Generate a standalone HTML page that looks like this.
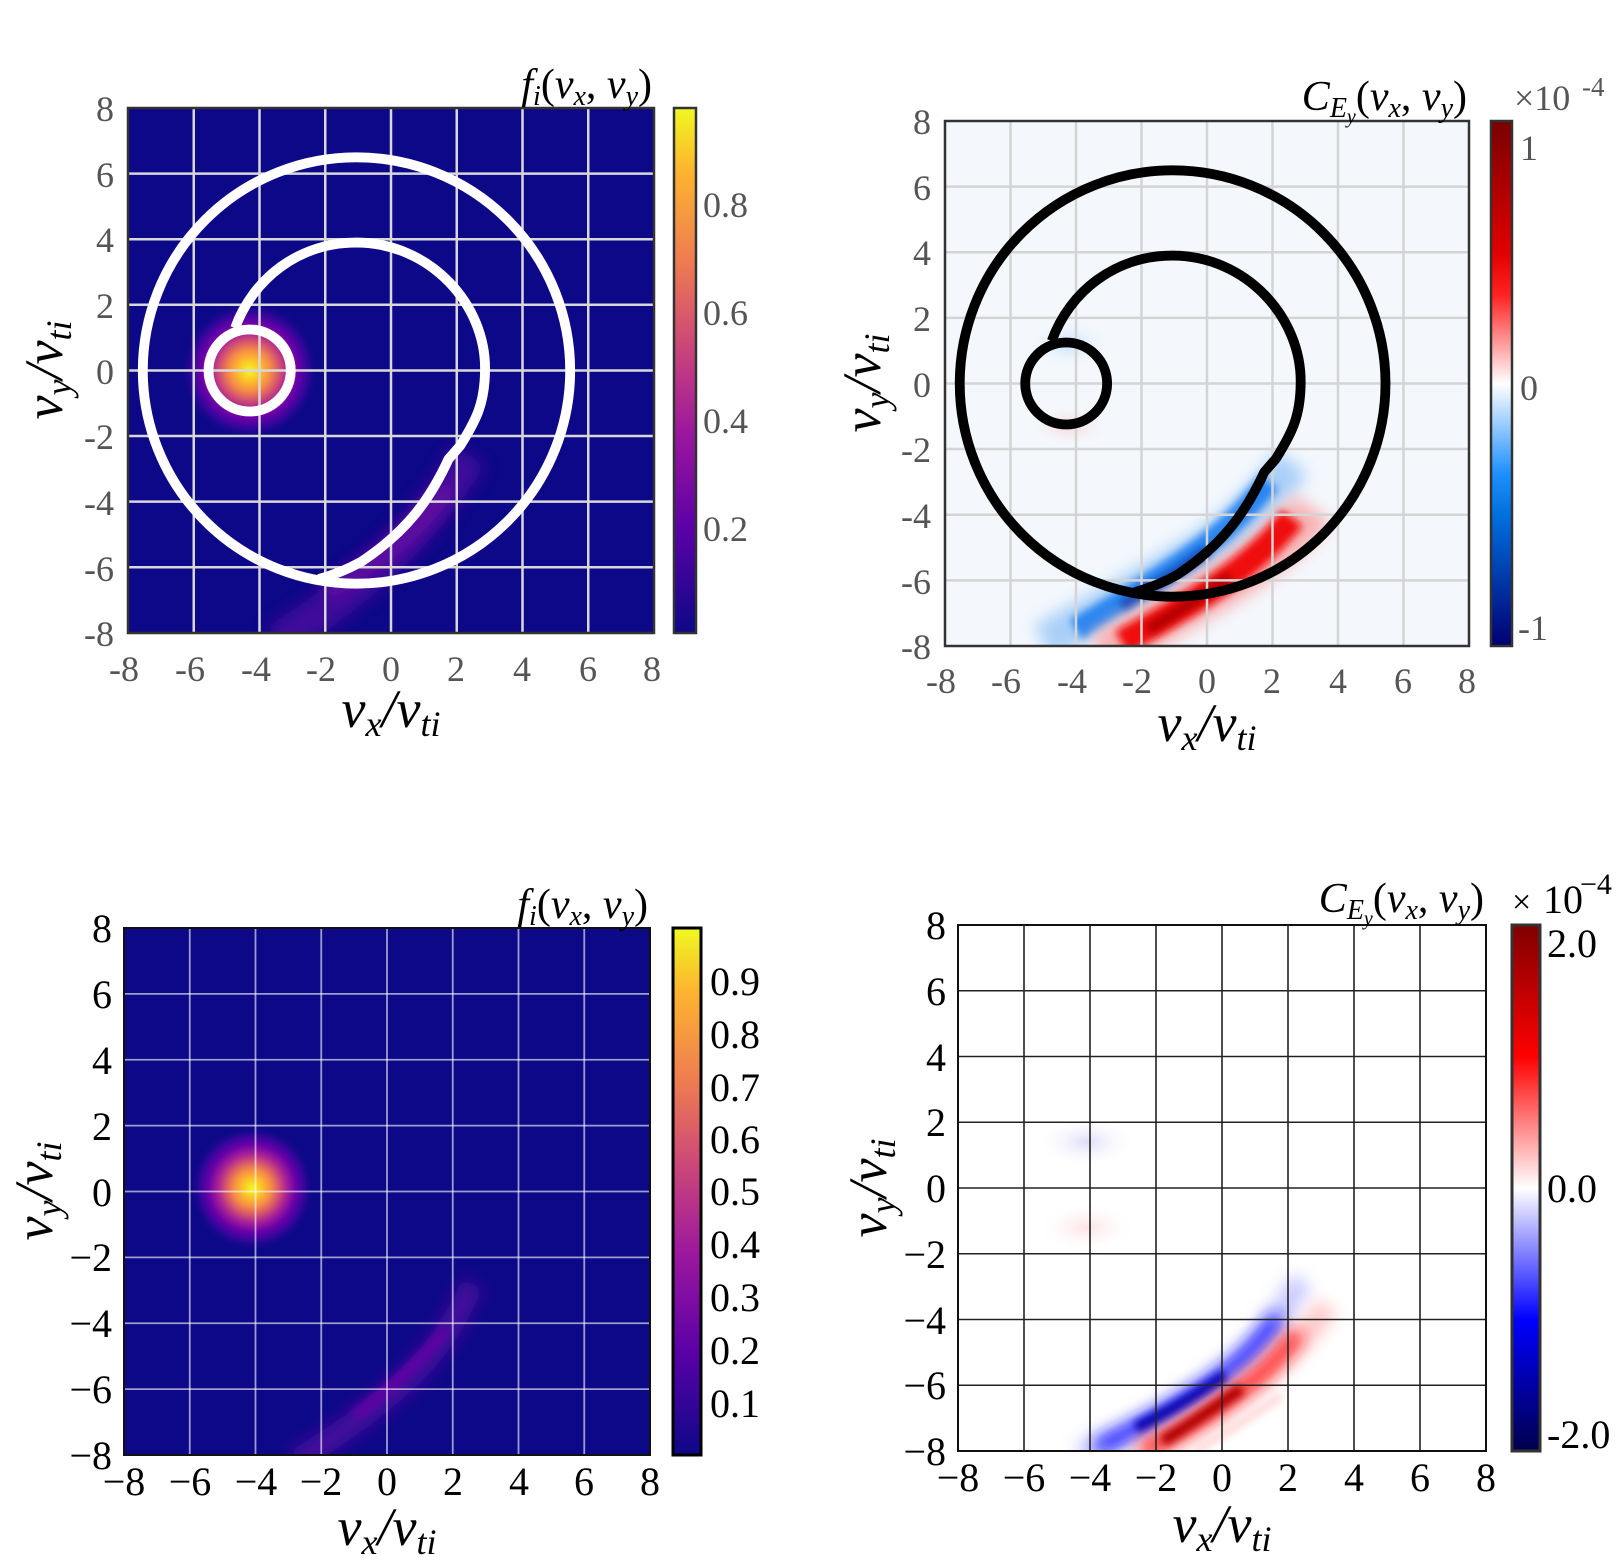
<!DOCTYPE html>
<html><head><meta charset="utf-8"><style>
html,body{margin:0;padding:0;background:#fff}
svg{display:block}
.tg{font-family:"Liberation Serif",serif;font-size:36px;fill:#555}
.tb{font-family:"Liberation Serif",serif;font-size:40px;fill:#000}
.lab{font-family:"Liberation Serif",serif;font-style:italic;font-size:54px}
.ttl{font-family:"Liberation Serif",serif;font-style:italic;font-size:42px}
</style></head><body>
<svg width="1617" height="1564" viewBox="0 0 1617 1564" xmlns="http://www.w3.org/2000/svg">
<defs>
<clipPath id="cd"><rect x="-8" y="-8" width="16" height="16"/></clipPath>
<filter id="b1" filterUnits="userSpaceOnUse" x="-10" y="-10" width="20" height="20"><feGaussianBlur stdDeviation="0.25"/></filter>
<filter id="b2" filterUnits="userSpaceOnUse" x="-10" y="-10" width="20" height="20"><feGaussianBlur stdDeviation="0.12"/></filter>
<radialGradient id="pl"><stop offset="0" stop-color="#f0f921"/><stop offset="0.15" stop-color="#fdc328"/><stop offset="0.3" stop-color="#f58c46"/><stop offset="0.42" stop-color="#d8576b"/><stop offset="0.55" stop-color="#a82296"/><stop offset="0.7" stop-color="#6a00a8"/><stop offset="0.85" stop-color="#30069a"/><stop offset="1" stop-color="#0d0887" stop-opacity="0"/></radialGradient>
<radialGradient id="bb"><stop offset="0" stop-color="#c7dffa"/><stop offset="1" stop-color="#f4f8fd" stop-opacity="0"/></radialGradient>
<radialGradient id="rb"><stop offset="0" stop-color="#fbd6d6"/><stop offset="1" stop-color="#f4f8fd" stop-opacity="0"/></radialGradient>
<radialGradient id="bb2"><stop offset="0" stop-color="#dcdcf8"/><stop offset="1" stop-color="#fff" stop-opacity="0"/></radialGradient>
<radialGradient id="rb2"><stop offset="0" stop-color="#fce2e2"/><stop offset="1" stop-color="#fff" stop-opacity="0"/></radialGradient>
<linearGradient id="cp" x1="0" y1="0" x2="0" y2="1"><stop offset="0" stop-color="#f0f921"/><stop offset="0.12" stop-color="#fdb42f"/><stop offset="0.3" stop-color="#ed7953"/><stop offset="0.45" stop-color="#cc4778"/><stop offset="0.62" stop-color="#9c179e"/><stop offset="0.8" stop-color="#5c01a6"/><stop offset="1" stop-color="#0d0887"/></linearGradient>
<linearGradient id="cm" x1="0" y1="0" x2="0" y2="1"><stop offset="0" stop-color="#7a0000"/><stop offset="0.25" stop-color="#e00000"/><stop offset="0.33" stop-color="#ff2020"/><stop offset="0.5" stop-color="#ffffff"/><stop offset="0.67" stop-color="#2090ff"/><stop offset="0.75" stop-color="#0070e0"/><stop offset="1" stop-color="#000070"/></linearGradient>
<linearGradient id="cs" x1="0" y1="0" x2="0" y2="1"><stop offset="0" stop-color="#7f0000"/><stop offset="0.25" stop-color="#ff0000"/><stop offset="0.5" stop-color="#ffffff"/><stop offset="0.75" stop-color="#0000ff"/><stop offset="1" stop-color="#00004c"/></linearGradient>
</defs>

<!-- ========== TOP LEFT ========== -->
<rect x="128" y="108" width="526" height="525" fill="#0d0887"/>
<g transform="translate(391,370.5) scale(32.875,-32.8)" clip-path="url(#cd)">
  <path d="M -3.5 -8.3 C -1.5 -7, 0.5 -5.6, 2.4 -2.6" stroke="#4d0aa0" stroke-width="1.1" fill="none" filter="url(#b1)" opacity="0.8"/>
  <path d="M -2 -6.8 C -0.5 -5.9, 0.8 -5, 1.8 -3.5" stroke="#7a10a6" stroke-width="0.5" fill="none" filter="url(#b1)" opacity="0.7"/>
  <circle cx="-4.3" cy="0" r="2.1" fill="url(#pl)"/>
</g>
<g stroke="#d8d8d8" stroke-width="2.5">
<line x1="193.75" y1="108" x2="193.75" y2="633"/><line x1="259.5" y1="108" x2="259.5" y2="633"/><line x1="325.25" y1="108" x2="325.25" y2="633"/><line x1="391" y1="108" x2="391" y2="633"/><line x1="456.75" y1="108" x2="456.75" y2="633"/><line x1="522.5" y1="108" x2="522.5" y2="633"/><line x1="588.25" y1="108" x2="588.25" y2="633"/>
<line x1="128" y1="173.6" x2="654" y2="173.6"/><line x1="128" y1="239.2" x2="654" y2="239.2"/><line x1="128" y1="304.8" x2="654" y2="304.8"/><line x1="128" y1="370.5" x2="654" y2="370.5"/><line x1="128" y1="436" x2="654" y2="436"/><line x1="128" y1="501.6" x2="654" y2="501.6"/><line x1="128" y1="567.2" x2="654" y2="567.2"/>
</g>
<g transform="translate(391,370.5) scale(32.875,-32.8)" stroke="#fff" stroke-width="0.3" stroke-linejoin="round">
  <ellipse cx="-1.05" cy="0" rx="6.5" ry="6.5" fill="none"/>
  <circle cx="-4.3" cy="0" r="1.25" fill="none"/>
  <path fill="none" d="M -4.74 1.3 C -4.2 2.8, -2.8 3.9, -1.06 3.9 C 1.2 3.9, 2.9 2, 2.86 0 C 2.85 -1, 2.6 -1.5, 2.1 -2.3 L 1.75 -2.7 C 1.2 -3.9, 0.5 -4.9, -0.92 -5.84 C -1.4 -6.1, -1.8 -6.25, -2.2 -6.36"/>
</g>
<rect x="128" y="108" width="526" height="525" fill="none" stroke="#333" stroke-width="2.5"/>
<rect x="674" y="108" width="22" height="525" fill="url(#cp)" stroke="#333" stroke-width="2.5"/>
<g class="tg" text-anchor="end">
<text x="114" y="121">8</text><text x="114" y="187">6</text><text x="114" y="252">4</text><text x="114" y="318">2</text><text x="114" y="384">0</text><text x="114" y="449">-2</text><text x="114" y="515">-4</text><text x="114" y="581">-6</text><text x="114" y="646">-8</text>
</g>
<g class="tg" text-anchor="middle">
<text x="124" y="681">-8</text><text x="190" y="681">-6</text><text x="256" y="681">-4</text><text x="321" y="681">-2</text><text x="391" y="681">0</text><text x="456" y="681">2</text><text x="522" y="681">4</text><text x="588" y="681">6</text><text x="652" y="681">8</text>
</g>
<g class="tg"><text x="703" y="217">0.8</text><text x="703" y="325">0.6</text><text x="703" y="433">0.4</text><text x="703" y="541">0.2</text></g>
<text class="lab" x="391" y="727" text-anchor="middle">v<tspan font-size="36" dy="9">x</tspan><tspan dy="-9">/v</tspan><tspan font-size="36" dy="9">ti</tspan></text>
<text class="lab" transform="translate(62,370) rotate(-90)" text-anchor="middle">v<tspan font-size="36" dy="9">y</tspan><tspan dy="-9">/v</tspan><tspan font-size="36" dy="9">ti</tspan></text>
<text class="ttl" x="652" y="98" text-anchor="end">f<tspan font-size="28" dy="7">i</tspan><tspan dy="-7" font-style="normal">(</tspan>v<tspan font-size="28" dy="7">x</tspan><tspan dy="-7" font-style="normal">, </tspan>v<tspan font-size="28" dy="7">y</tspan><tspan dy="-7" font-style="normal">)</tspan></text>

<!-- ========== TOP RIGHT ========== -->
<rect x="945" y="121" width="524" height="525" fill="#f4f8fd"/>
<g transform="translate(1207,383.5) scale(32.75,-32.8)" clip-path="url(#cd)">
  <ellipse cx="-4.2" cy="1.2" rx="1.3" ry="0.75" fill="url(#bb)"/>
  <ellipse cx="-4.2" cy="-1.3" rx="1.3" ry="0.7" fill="url(#rb)"/>
  <path d="M -5 -7.9 C -3 -6.8, -1.2 -5.8, 0.3 -4.8 C 1.2 -4.1, 2 -3.2, 2.6 -2.4" stroke="#a9cff8" stroke-width="1.2" fill="none" filter="url(#b1)"/>
  <path d="M -4 -7.5 C -2.5 -6.6, -1.2 -5.8, 0 -4.9 C 0.8 -4.3, 1.4 -3.6, 1.9 -3" stroke="#2c86f0" stroke-width="0.7" fill="none" filter="url(#b2)"/>
  <path d="M -2.6 -6.8 C -1.6 -6.2, -0.8 -5.7, 0 -5.1" stroke="#0a3fb5" stroke-width="0.35" fill="none" filter="url(#b2)"/>
  <path d="M -3.2 -8.3 C -1.5 -7.2, 0.2 -6.4, 1.4 -5.5 C 2.2 -4.9, 2.8 -4.4, 3.2 -3.8" stroke="#f8b0b0" stroke-width="1.4" fill="none" filter="url(#b1)"/>
  <path d="M -2.6 -7.9 C -1.2 -7.1, 0.1 -6.4, 1.2 -5.5 C 1.8 -5, 2.2 -4.6, 2.6 -4.1" stroke="#f01010" stroke-width="0.8" fill="none" filter="url(#b2)"/>
  <path d="M -1.8 -7.5 C -0.8 -6.9, 0 -6.4, 0.7 -5.9" stroke="#b00000" stroke-width="0.35" fill="none" filter="url(#b2)"/>
</g>
<g stroke="#d4d4d4" stroke-width="2.5">
<line x1="1010.5" y1="121" x2="1010.5" y2="646"/><line x1="1076" y1="121" x2="1076" y2="646"/><line x1="1141.5" y1="121" x2="1141.5" y2="646"/><line x1="1207" y1="121" x2="1207" y2="646"/><line x1="1272.5" y1="121" x2="1272.5" y2="646"/><line x1="1338" y1="121" x2="1338" y2="646"/><line x1="1403.5" y1="121" x2="1403.5" y2="646"/>
<line x1="945" y1="186.6" x2="1469" y2="186.6"/><line x1="945" y1="252.2" x2="1469" y2="252.2"/><line x1="945" y1="317.9" x2="1469" y2="317.9"/><line x1="945" y1="383.5" x2="1469" y2="383.5"/><line x1="945" y1="449" x2="1469" y2="449"/><line x1="945" y1="514.7" x2="1469" y2="514.7"/><line x1="945" y1="580.4" x2="1469" y2="580.4"/>
</g>
<g transform="translate(1207,383.5) scale(32.75,-32.8)" stroke="#000" stroke-width="0.3" stroke-linejoin="round">
  <ellipse cx="-1.05" cy="0" rx="6.5" ry="6.5" fill="none"/>
  <circle cx="-4.3" cy="0" r="1.25" fill="none"/>
  <path fill="none" d="M -4.74 1.3 C -4.2 2.8, -2.8 3.9, -1.06 3.9 C 1.2 3.9, 2.9 2, 2.86 0 C 2.85 -1, 2.6 -1.5, 2.1 -2.3 L 1.75 -2.7 C 1.2 -3.9, 0.5 -4.9, -0.92 -5.84 C -1.4 -6.1, -1.8 -6.25, -2.2 -6.36"/>
</g>
<rect x="945" y="121" width="524" height="525" fill="none" stroke="#333" stroke-width="2.5"/>
<rect x="1491" y="121" width="21" height="525" fill="url(#cm)" stroke="#333" stroke-width="2.5"/>
<g class="tg" text-anchor="end">
<text x="931" y="134">8</text><text x="931" y="200">6</text><text x="931" y="265">4</text><text x="931" y="331">2</text><text x="931" y="397">0</text><text x="931" y="462">-2</text><text x="931" y="528">-4</text><text x="931" y="594">-6</text><text x="931" y="659">-8</text>
</g>
<g class="tg" text-anchor="middle">
<text x="941" y="693">-8</text><text x="1006" y="693">-6</text><text x="1072" y="693">-4</text><text x="1137" y="693">-2</text><text x="1207" y="693">0</text><text x="1272" y="693">2</text><text x="1338" y="693">4</text><text x="1403" y="693">6</text><text x="1467" y="693">8</text>
</g>
<g class="tg"><text x="1520" y="160">1</text><text x="1520" y="400">0</text><text x="1518" y="640">-1</text><text x="1514" y="110">×10</text><text x="1582" y="96" font-size="27">-4</text></g>
<text class="lab" x="1207" y="741" text-anchor="middle">v<tspan font-size="36" dy="9">x</tspan><tspan dy="-9">/v</tspan><tspan font-size="36" dy="9">ti</tspan></text>
<text class="lab" transform="translate(880,383) rotate(-90)" text-anchor="middle">v<tspan font-size="36" dy="9">y</tspan><tspan dy="-9">/v</tspan><tspan font-size="36" dy="9">ti</tspan></text>
<text class="ttl" x="1467" y="110" text-anchor="end">C<tspan font-size="28" dy="7">E</tspan><tspan font-size="20" dy="6">y</tspan><tspan dy="-13" font-style="normal">(</tspan>v<tspan font-size="28" dy="7">x</tspan><tspan dy="-7" font-style="normal">, </tspan>v<tspan font-size="28" dy="7">y</tspan><tspan dy="-7" font-style="normal">)</tspan></text>

<!-- ========== BOTTOM LEFT ========== -->
<rect x="124" y="928" width="526" height="527" fill="#0d0887"/>
<g transform="translate(387,1191.5) scale(32.875,-32.94)" clip-path="url(#cd)">
  <path d="M -2.8 -8.2 C -1.3 -7.3, 0.2 -6.2, 1.2 -5.1 C 1.8 -4.4, 2.2 -3.7, 2.6 -2.8" stroke="#4a0a9e" stroke-width="0.7" fill="none" filter="url(#b1)"/>
  <path d="M -1 -6.8 C 0 -6.1, 1 -5.1, 1.8 -4.2" stroke="#6206a6" stroke-width="0.3" fill="none" filter="url(#b2)"/>
  <circle cx="-4.1" cy="0.1" r="1.9" fill="url(#pl)"/>
</g>
<g stroke="#fff" stroke-opacity="0.6" stroke-width="1.8">
<line x1="189.75" y1="928" x2="189.75" y2="1455"/><line x1="255.5" y1="928" x2="255.5" y2="1455"/><line x1="321.25" y1="928" x2="321.25" y2="1455"/><line x1="387" y1="928" x2="387" y2="1455"/><line x1="452.75" y1="928" x2="452.75" y2="1455"/><line x1="518.5" y1="928" x2="518.5" y2="1455"/><line x1="584.25" y1="928" x2="584.25" y2="1455"/>
<line x1="124" y1="993.9" x2="650" y2="993.9"/><line x1="124" y1="1059.75" x2="650" y2="1059.75"/><line x1="124" y1="1125.6" x2="650" y2="1125.6"/><line x1="124" y1="1191.5" x2="650" y2="1191.5"/><line x1="124" y1="1257.4" x2="650" y2="1257.4"/><line x1="124" y1="1323.25" x2="650" y2="1323.25"/><line x1="124" y1="1389.1" x2="650" y2="1389.1"/>
</g>
<rect x="124" y="928" width="526" height="527" fill="none" stroke="#111" stroke-width="2"/>
<rect x="673" y="928" width="28" height="527" fill="url(#cp)" stroke="#000" stroke-width="3"/>
<g class="tb" text-anchor="end">
<text x="112" y="942">8</text><text x="112" y="1008">6</text><text x="112" y="1074">4</text><text x="112" y="1140">2</text><text x="112" y="1206">0</text><text x="112" y="1271">−2</text><text x="112" y="1337">−4</text><text x="112" y="1403">−6</text><text x="112" y="1469">−8</text>
</g>
<g class="tb" text-anchor="middle">
<text x="124" y="1495">−8</text><text x="190" y="1495">−6</text><text x="256" y="1495">−4</text><text x="321" y="1495">−2</text><text x="387" y="1495">0</text><text x="453" y="1495">2</text><text x="519" y="1495">4</text><text x="584" y="1495">6</text><text x="650" y="1495">8</text>
</g>
<g class="tb"><text x="710" y="995">0.9</text><text x="710" y="1048">0.8</text><text x="710" y="1101">0.7</text><text x="710" y="1153">0.6</text><text x="710" y="1205">0.5</text><text x="710" y="1258">0.4</text><text x="710" y="1311">0.3</text><text x="710" y="1364">0.2</text><text x="710" y="1417">0.1</text></g>
<text class="lab" x="387" y="1545" text-anchor="middle">v<tspan font-size="36" dy="9">x</tspan><tspan dy="-9">/v</tspan><tspan font-size="36" dy="9">ti</tspan></text>
<text class="lab" transform="translate(52,1191) rotate(-90)" text-anchor="middle">v<tspan font-size="36" dy="9">y</tspan><tspan dy="-9">/v</tspan><tspan font-size="36" dy="9">ti</tspan></text>
<text class="ttl" x="648" y="918" text-anchor="end">f<tspan font-size="28" dy="7">i</tspan><tspan dy="-7" font-style="normal">(</tspan>v<tspan font-size="28" dy="7">x</tspan><tspan dy="-7" font-style="normal">, </tspan>v<tspan font-size="28" dy="7">y</tspan><tspan dy="-7" font-style="normal">)</tspan></text>

<!-- ========== BOTTOM RIGHT ========== -->
<rect x="958" y="925" width="528" height="526" fill="#fff"/>
<g transform="translate(1222,1188) scale(33,-32.875)" clip-path="url(#cd)">
  <ellipse cx="-4.1" cy="1.4" rx="1.5" ry="0.8" fill="url(#bb2)"/>
  <ellipse cx="-4.1" cy="-1.2" rx="1.5" ry="0.8" fill="url(#rb2)"/>
  <path d="M -4.3 -8.1 C -2.5 -7.4, -1 -6.6, 0 -5.8 C 1 -5, 1.6 -4.2, 2.4 -2.8" stroke="#c8c8ff" stroke-width="0.7" fill="none" filter="url(#b1)"/>
  <path d="M -3.8 -7.9 C -2.3 -7.2, -1 -6.4, 0 -5.7 C 0.8 -5.1, 1.3 -4.5, 1.7 -3.9" stroke="#1a1aff" stroke-width="0.45" fill="none" filter="url(#b1)"/>
  <path d="M -2.6 -7.3 C -1.4 -6.7, -0.6 -6.2, 0.1 -5.7" stroke="#0000b0" stroke-width="0.35" fill="none" filter="url(#b2)"/>
  <path d="M -2.6 -8.2 C -1.2 -7.5, 0 -6.7, 1 -5.9 C 2 -5.1, 2.6 -4.4, 3.2 -3.6" stroke="#ffc8c8" stroke-width="0.7" fill="none" filter="url(#b1)"/>
  <path d="M -2.4 -8 C -1 -7.3, 0 -6.6, 1 -5.8 C 1.6 -5.3, 2 -4.8, 2.3 -4.4" stroke="#ff1a1a" stroke-width="0.45" fill="none" filter="url(#b1)"/>
  <path d="M -1.8 -7.7 C -0.8 -7.1, 0 -6.5, 0.6 -6.1" stroke="#b00000" stroke-width="0.35" fill="none" filter="url(#b2)"/>
  <path d="M -0.8 -8 C 0 -7.5, 1 -6.9, 1.8 -6.3" stroke="#ffd8d8" stroke-width="0.25" fill="none" filter="url(#b2)"/>
</g>
<g stroke="#222" stroke-width="1.6">
<line x1="1024" y1="925" x2="1024" y2="1451"/><line x1="1090" y1="925" x2="1090" y2="1451"/><line x1="1156" y1="925" x2="1156" y2="1451"/><line x1="1222" y1="925" x2="1222" y2="1451"/><line x1="1288" y1="925" x2="1288" y2="1451"/><line x1="1354" y1="925" x2="1354" y2="1451"/><line x1="1420" y1="925" x2="1420" y2="1451"/>
<line x1="958" y1="990.75" x2="1486" y2="990.75"/><line x1="958" y1="1056.5" x2="1486" y2="1056.5"/><line x1="958" y1="1122.25" x2="1486" y2="1122.25"/><line x1="958" y1="1188" x2="1486" y2="1188"/><line x1="958" y1="1253.75" x2="1486" y2="1253.75"/><line x1="958" y1="1319.5" x2="1486" y2="1319.5"/><line x1="958" y1="1385.25" x2="1486" y2="1385.25"/>
</g>
<rect x="958" y="925" width="528" height="526" fill="none" stroke="#111" stroke-width="2"/>
<rect x="1512" y="925" width="28" height="526" fill="url(#cs)" stroke="#333" stroke-width="3"/>
<g class="tb" text-anchor="end">
<text x="946" y="939">8</text><text x="946" y="1005">6</text><text x="946" y="1071">4</text><text x="946" y="1136">2</text><text x="946" y="1202">0</text><text x="946" y="1268">−2</text><text x="946" y="1334">−4</text><text x="946" y="1399">−6</text><text x="946" y="1465">−8</text>
</g>
<g class="tb" text-anchor="middle">
<text x="958" y="1491">−8</text><text x="1024" y="1491">−6</text><text x="1090" y="1491">−4</text><text x="1156" y="1491">−2</text><text x="1222" y="1491">0</text><text x="1288" y="1491">2</text><text x="1354" y="1491">4</text><text x="1420" y="1491">6</text><text x="1486" y="1491">8</text>
</g>
<g class="tb"><text x="1547" y="957">2.0</text><text x="1547" y="1202">0.0</text><text x="1547" y="1448">-2.0</text><text x="1512" y="913" font-size="34">×</text><text x="1543" y="913" font-size="40">10</text><text x="1580" y="894" font-size="30">−4</text></g>
<text class="lab" x="1222" y="1542" text-anchor="middle">v<tspan font-size="36" dy="9">x</tspan><tspan dy="-9">/v</tspan><tspan font-size="36" dy="9">ti</tspan></text>
<text class="lab" transform="translate(886,1188) rotate(-90)" text-anchor="middle">v<tspan font-size="36" dy="9">y</tspan><tspan dy="-9">/v</tspan><tspan font-size="36" dy="9">ti</tspan></text>
<text class="ttl" x="1484" y="912" text-anchor="end">C<tspan font-size="28" dy="7">E</tspan><tspan font-size="20" dy="6">y</tspan><tspan dy="-13" font-style="normal">(</tspan>v<tspan font-size="28" dy="7">x</tspan><tspan dy="-7" font-style="normal">, </tspan>v<tspan font-size="28" dy="7">y</tspan><tspan dy="-7" font-style="normal">)</tspan></text>
</svg>
</body></html>
